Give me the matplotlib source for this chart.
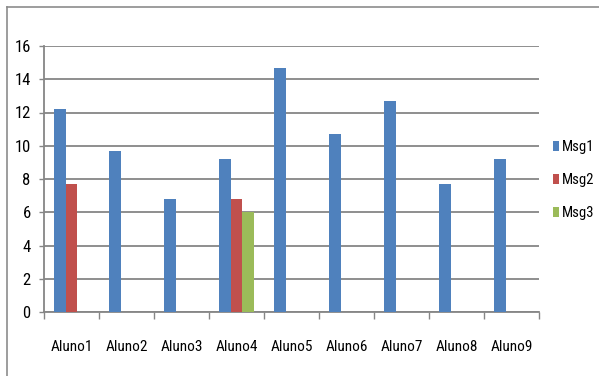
import matplotlib
matplotlib.use("Agg")
import matplotlib.pyplot as plt
from matplotlib import font_manager
from matplotlib.lines import Line2D
from matplotlib.patches import Patch
import numpy as np

# prefer a narrow sans face for the labels, whichever one is available
installed = {(f.name, str(f.stretch)) for f in font_manager.fontManager.ttflist}
names = {n for n, _ in installed}
font_kw = {"family": ["DejaVu Sans"], "stretch": "normal"}
for cand in ["Liberation Sans Narrow", "Roboto Condensed", "Open Sans Condensed"]:
    if cand in names:
        font_kw = {"family": [cand, "DejaVu Sans"], "stretch": "normal"}
        break
else:
    if any(n == "DejaVu Sans" and s in ("condensed", "semi-condensed", "87.5", "75")
           for n, s in installed):
        font_kw = {"family": ["DejaVu Sans"], "stretch": "condensed"}
plt.rcParams["font.family"] = font_kw["family"]
plt.rcParams["font.stretch"] = font_kw["stretch"]
narrow = font_kw["family"][0] != "DejaVu Sans" or font_kw["stretch"] != "normal"
label_size = 10.5 if narrow else 9

alunos = ["Aluno1", "Aluno2", "Aluno3", "Aluno4", "Aluno5",
          "Aluno6", "Aluno7", "Aluno8", "Aluno9"]
msg1 = [12.2, 9.7, 6.8, 9.2, 14.7, 10.7, 12.7, 7.7, 9.2]
msg2 = [7.7, 0, 0, 6.8, 0, 0, 0, 0, 0]
msg3 = [0, 0, 0, 6.0, 0, 0, 0, 0, 0]
series_names = ["Msg1", "Msg2", "Msg3"]
series_colors = ["#4F81BD", "#C0504D", "#9BBB59"]
y_ticks = [0, 2, 4, 6, 8, 10, 12, 14, 16]

fig = plt.figure(figsize=(5.99, 3.76), dpi=100)
ax = fig.add_axes([44 / 599, 1 - 312 / 376, 495 / 599, 266 / 376])

x = np.arange(len(alunos))
width = 0.218
for i, (vals, color) in enumerate(zip([msg1, msg2, msg3], series_colors)):
    ax.bar(x + (i - 1) * width, vals, width=width, color=color, zorder=3)

ax.set_xlim(-0.5, len(alunos) - 0.5)
ax.set_ylim(0, 16)
ax.set_yticks(y_ticks)
ax.yaxis.grid(True, color="#868686", linewidth=1.3, zorder=0)
ax.set_axisbelow(True)

# category boundary ticks on the x axis, labels centred between them
ax.set_xticks(np.arange(len(alunos) + 1) - 0.5)
ax.set_xticklabels([])
ax.set_xticks(x, minor=True)
ax.set_xticklabels(alunos, minor=True)
ax.tick_params(axis="x", which="major", length=5, width=1, color="#868686")
ax.tick_params(axis="x", which="minor", length=0, pad=20, labelsize=label_size + 0.5)
ax.tick_params(axis="y", length=3.6, width=1, color="#868686",
               labelsize=label_size + 1.5, pad=6)

for side in ["top", "right"]:
    ax.spines[side].set_visible(False)
for side in ["left", "bottom"]:
    ax.spines[side].set_color("#868686")
    ax.spines[side].set_linewidth(1.3)

handles = [Patch(facecolor=c, edgecolor="none") for c in series_colors]
fig.legend(handles, series_names, loc="center left",
           bbox_to_anchor=(553 / 599, 1 - 180 / 376), frameon=False,
           handlelength=0.4, handleheight=0.75, handletextpad=0.2,
           labelspacing=1.3, fontsize=label_size, borderaxespad=0,
           borderpad=0)

# chart area border on top and left
fig.add_artist(Line2D([6.5 / 599, 1], [1 - 6.5 / 376] * 2,
                      transform=fig.transFigure, color="#8c8c8c", linewidth=1.2))
fig.add_artist(Line2D([6.5 / 599] * 2, [0, 1 - 6.5 / 376],
                      transform=fig.transFigure, color="#8c8c8c", linewidth=1.2))

fig.savefig("out.png", dpi=100)
